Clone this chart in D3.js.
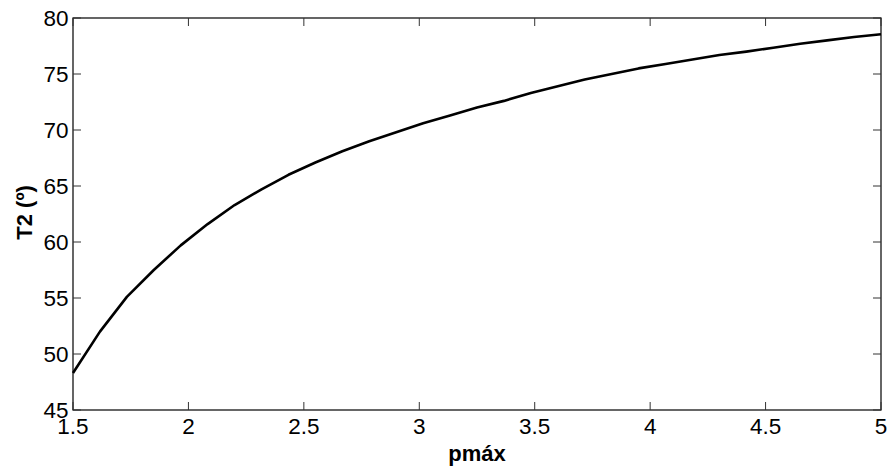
<!DOCTYPE html>
<html>
<head>
<meta charset="utf-8">
<script src="https://cdn.jsdelivr.net/npm/d3@7"></script>
<style>
  html, body { margin: 0; padding: 0; background: #fff; }
  svg { display: block; }
</style>
</head>
<body>
<svg id="chart" width="889" height="466"></svg>
<script>
const pmax = [1.5, 1.6167, 1.7333, 1.85, 1.9667, 2.0833, 2.2, 2.3167, 2.4333, 2.55,
  2.6667, 2.7833, 2.9, 3.0167, 3.1333, 3.25, 3.3667, 3.4833, 3.6, 3.7167,
  3.8333, 3.95, 4.0667, 4.1833, 4.3, 4.4167, 4.5333, 4.65, 4.7667, 4.8833, 5.0];
const T2 = [48.3, 52.0, 55.1, 57.5, 59.7, 61.6, 63.3, 64.7, 66.0, 67.1,
  68.1, 69.0, 69.8, 70.6, 71.3, 72.0, 72.6, 73.3, 73.9, 74.5,
  75.0, 75.5, 75.9, 76.3, 76.7, 77.0, 77.35, 77.7, 78.0, 78.3, 78.55];
const xTicks = [1.5, 2, 2.5, 3, 3.5, 4, 4.5, 5];
const yTicks = [45, 50, 55, 60, 65, 70, 75, 80];
const xLabel = "pmáx";
const yLabel = "T2 (º)";

const svg = d3.select("#chart");
const L = 73, R = 881, T = 18, B = 410;
const x = d3.scaleLinear().domain([1.5, 5]).range([L, R]);
const y = d3.scaleLinear().domain([45, 80]).range([B, T]);
const font = "'Liberation Sans', Arial, Helvetica, sans-serif";
const tickLen = 8;
const fs = 22.5;

// box
svg.append("rect").attr("x", L).attr("y", T).attr("width", R - L).attr("height", B - T)
  .attr("fill", "none").attr("stroke", "#000").attr("stroke-width", 1.2);

// ticks
const g = svg.append("g").attr("stroke", "#333").attr("stroke-width", 1);
xTicks.forEach(v => {
  g.append("line").attr("x1", x(v)).attr("x2", x(v)).attr("y1", B).attr("y2", B - tickLen);
  g.append("line").attr("x1", x(v)).attr("x2", x(v)).attr("y1", T).attr("y2", T + tickLen);
});
yTicks.forEach(v => {
  g.append("line").attr("x1", L).attr("x2", L + tickLen).attr("y1", y(v)).attr("y2", y(v));
  g.append("line").attr("x1", R).attr("x2", R - tickLen).attr("y1", y(v)).attr("y2", y(v));
});

// tick labels
svg.append("g").selectAll("text").data(xTicks).join("text")
  .attr("x", d => x(d)).attr("y", 433.5)
  .attr("text-anchor", "middle").attr("font-family", font).attr("font-size", fs)
  .attr("fill", "#000").text(d => d);
svg.append("g").selectAll("text").data(yTicks).join("text")
  .attr("x", 68.5).attr("y", d => y(d)).attr("dy", "0.36em")
  .attr("text-anchor", "end").attr("font-family", font).attr("font-size", fs)
  .attr("fill", "#000").text(d => d);

// axis labels
svg.append("text").attr("x", (L + R) / 2).attr("y", 460.5)
  .attr("text-anchor", "middle").attr("font-family", font).attr("font-size", 22)
  .attr("font-weight", "bold").text(xLabel);
svg.append("text").attr("transform", `translate(32,212.5) rotate(-90)`)
  .attr("text-anchor", "middle").attr("font-family", font).attr("font-size", 22)
  .attr("font-weight", "bold").text(yLabel);

// line
const line = d3.line().x((d, i) => x(pmax[i])).y(d => y(d));
svg.append("path").datum(T2).attr("d", line)
  .attr("fill", "none").attr("stroke", "#000").attr("stroke-width", 2.6)
  .attr("stroke-linejoin", "round");
</script>
</body>
</html>
